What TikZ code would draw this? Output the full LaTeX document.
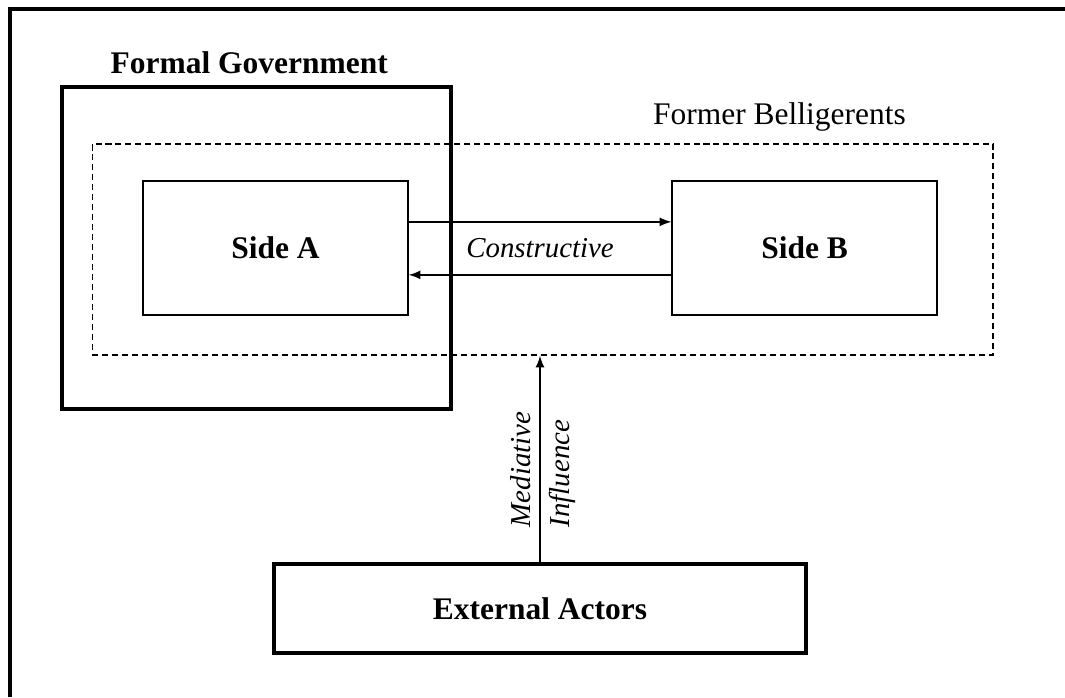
\documentclass[tikz,border=0pt]{standalone}
\usepackage{fontspec}
\setmainfont{Liberation Serif}
\usepackage{tikz}
\usetikzlibrary{positioning,calc}

\begin{document}
\begin{tikzpicture}[>=latex,
		every node/.style={font=\fontsize{12pt}{14pt}\selectfont},
		sidebox/.style={draw, line width=0.55pt, minimum width=3.55cm, minimum height=1.8cm, font=\fontsize{12pt}{14pt}\selectfont\bfseries},
		flowlabel/.style={font=\fontsize{11pt}{13pt}\selectfont\itshape},
		flow/.style={->, line width=0.55pt}]
	\useasboundingbox (0,0) rectangle (14.271,-9.34);
	% frame
	\draw[line width=1.5pt] (0.134,-9.34) -- (0.134,-0.121) -- (14.271,-0.121);
	
	% former belligerents
	\node (FB) [draw, dashed, dash pattern=on 2.3pt off 1.5pt, line width=0.5pt,
				minimum width=12.07cm, minimum height=2.83cm] at (7.27,-3.343) {};
	\node [anchor=base] at (10.445,-1.662) {Former Belligerents};
	
	% formal government
	\node (FG) [draw, line width=1.5pt, minimum width=5.21cm, minimum height=4.31cm] at (3.437,-3.323) {};
	\node [anchor=base] at (3.34,-0.99) {\bfseries Formal Government};
	
	% sides
	\node (SA) [sidebox] at (3.692,-3.323) {Side A};
	\node (SB) [sidebox, right=3.52cm of SA] {Side B};
	
	\draw [flow] ([yshift=0.35cm]SA.east) -- ([yshift=0.35cm]SA.east -| SB.west);
	\draw [flow] ([yshift=-0.36cm]SB.west) -- ([yshift=-0.36cm]SB.west -| SA.east);
	\node (C) [flowlabel] at ($(SA.east)!0.5!(SB.west)$) {Constructive};
	
	% external actors
	\node (EA) [draw, line width=1.3pt, minimum width=7.13cm, minimum height=1.19cm,
				font=\fontsize{12pt}{14pt}\selectfont\bfseries] at (7.236,-8.154) {External Actors};
	
	\draw [flow] (EA.north) -- (EA.north |- FB.south)
		node (M) [flowlabel, pos=0.45, rotate=90, anchor=south, inner sep=0pt, yshift=0.12cm] {Mediative}
		node (I) [flowlabel, pos=0.43, rotate=90, anchor=north, inner sep=0pt, yshift=-0.12cm] {Influence};
\end{tikzpicture}
\end{document}
